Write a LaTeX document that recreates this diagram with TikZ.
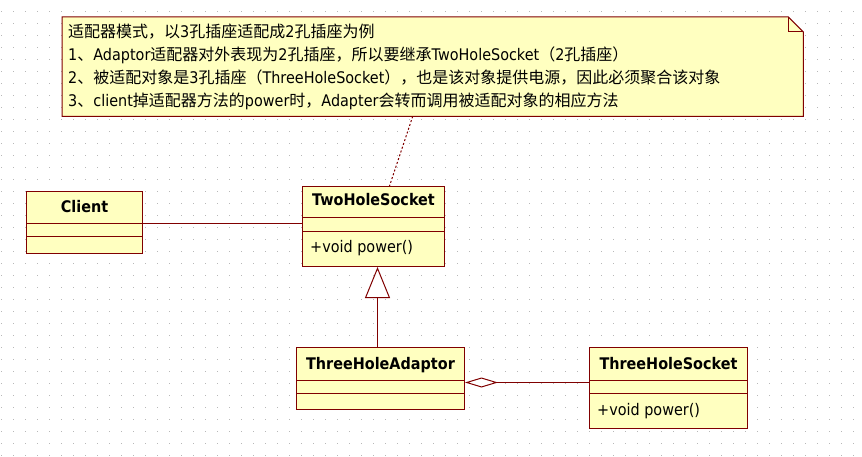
\documentclass[tikz,border=0pt]{standalone}
\usepackage{fontspec}
\setmainfont{DejaVu Sans}[FakeStretch=0.9]
\newfontfamily\cjk{Noto Sans CJK SC}
\usetikzlibrary{arrows.meta,calc}
\definecolor{umlborder}{HTML}{800000}
\definecolor{umlfill}{HTML}{FFFFC0}
\definecolor{griddot}{HTML}{B8B8B8}
\newcommand{\zh}[1]{{\cjk #1}}
\tikzset{
  cls/.style={draw=umlborder, fill=umlfill, line width=1pt, inner sep=0pt, anchor=north west},
  divider/.style={draw=umlborder, line width=1pt},
  clsname/.style={anchor=base, inner sep=0pt, font=\fontsize{16}{18}\selectfont\bfseries},
  op/.style={anchor=base west, inner sep=0pt, font=\fontsize{16}{18}\selectfont},
  notetext/.style={anchor=base west, inner sep=0pt, font=\fontsize{16}{18}\selectfont},
  conn/.style={draw=umlborder, line width=1pt},
}
\begin{document}
\begin{tikzpicture}[x=1pt,y=-1pt]
\useasboundingbox (0,0) rectangle (862,457);
\fill[white] (0,0) rectangle (862,457);
% grid dots
\foreach \j in {0,...,37}
  \draw[griddot, line width=1pt, dash pattern=on 1pt off 11pt] (1,11.5+12*\j) -- (862,11.5+12*\j);

% note
\node[anchor=north west, minimum width=741pt, minimum height=99pt, inner sep=0pt] (note) at (62,17) {};
\filldraw[draw=umlborder, fill=umlfill, line width=1pt]
  (note.north west) -- ($(note.north east)+(-15,0)$) -- ($(note.north east)+(0,15)$) -- (note.south east) -- (note.south west) -- cycle;
\draw[umlborder, line width=1pt] ($(note.north east)+(-15,0)$) -- ($(note.north east)+(-15,15)$) -- ($(note.north east)+(0,15)$);
\node[notetext] (n0) at (68,38) {\zh{适配器模式，以}3\zh{孔插座适配成}2\zh{孔插座为例}};
\node[notetext] (n1) at (68,61) {1\zh{、}Adaptor\zh{适配器对外表现为}2\zh{孔插座，所以要继承}TwoHoleSocket\zh{（}2\zh{孔插座）}};
\node[notetext] (n2) at (68,84) {2\zh{、被适配对象是}3\zh{孔插座（}ThreeHoleSocket\zh{），也是该对象提供电源，因此必须聚合该对象}};
\node[notetext] (n3) at (68,107) {3\zh{、}client\zh{掉适配器方法的}power\zh{时，}Adapter\zh{会转而调用被适配对象的相应方法}};

% Client
\node[cls, minimum width=116pt, minimum height=62pt] (client) at (26,191) {};
\draw[divider] ($(client.north west)+(0,33)$) -- ($(client.north east)+(0,33)$);
\draw[divider] ($(client.north west)+(0,46)$) -- ($(client.north east)+(0,46)$);
\node[clsname] (clientname) at ($(client.north)+(0,22)$) {Client};

% TwoHoleSocket
\node[cls, minimum width=142pt, minimum height=80pt] (tws) at (302,186) {};
\draw[divider] ($(tws.north west)+(0,32)$) -- ($(tws.north east)+(0,32)$);
\draw[divider] ($(tws.north west)+(0,46)$) -- ($(tws.north east)+(0,46)$);
\node[clsname] (twsname) at ($(tws.north)+(0,20)$) {TwoHoleSocket};
\node[op] (twsop) at ($(tws.north west)+(8,66)$) {+void power()};

% ThreeHoleAdaptor
\node[cls, minimum width=168pt, minimum height=62pt] (adp) at (296,347) {};
\draw[divider] ($(adp.north west)+(0,33)$) -- ($(adp.north east)+(0,33)$);
\draw[divider] ($(adp.north west)+(0,46)$) -- ($(adp.north east)+(0,46)$);
\node[clsname] (adpname) at ($(adp.north)+(0,22)$) {ThreeHoleAdaptor};

% ThreeHoleSocket
\node[cls, minimum width=158pt, minimum height=81pt] (ths) at (589,347) {};
\draw[divider] ($(ths.north west)+(0,33)$) -- ($(ths.north east)+(0,33)$);
\draw[divider] ($(ths.north west)+(0,46)$) -- ($(ths.north east)+(0,46)$);
\node[clsname] (thsname) at ($(ths.north)+(0,22)$) {ThreeHoleSocket};
\node[op] (thsop) at ($(ths.north west)+(8,68)$) {+void power()};

% connector end points
\coordinate (c1) at ($(client.east)+(0,1)$);
\coordinate (c2) at (c1 -| tws.west);
\coordinate (d1) at ($(note.south)+(-20,0)$);
\coordinate (d2) at ($(tws.north)+(16,0)$);
\coordinate (g1) at ($(adp.north)+(-3,0)$);
\coordinate (g2) at (g1 |- tws.south);
\coordinate (a1) at ($(adp.east)+(0,4)$);
\coordinate (a2) at (a1 -| ths.west);

% connectors
\draw[conn] (c1) -- (c2);
\draw[conn, dash pattern=on 2pt off 2pt] (d1) -- (d2);
\draw[conn, -{Triangle[open, length=31pt, width=25pt, fill=white]}] (g1) -- (g2);
\draw[conn, {Diamond[open, length=33pt, width=10pt, fill=white]}-] (a1) -- (a2);
\end{tikzpicture}
\end{document}
